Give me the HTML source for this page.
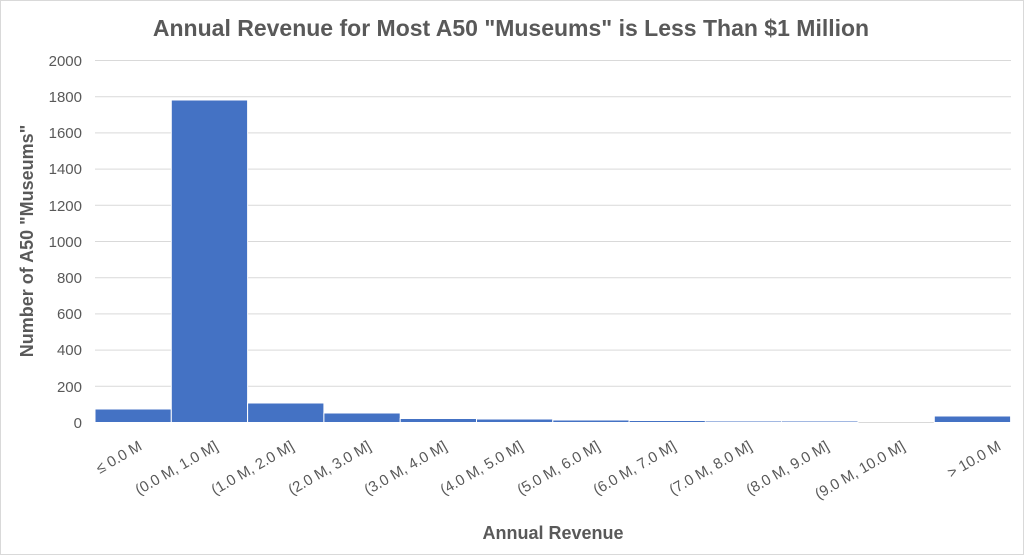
<!DOCTYPE html>
<html><head><meta charset="utf-8"><style>body{margin:0;background:#fff}</style></head><body>
<svg width="1024" height="555" xmlns="http://www.w3.org/2000/svg" font-family="Liberation Sans, sans-serif">
<rect x="0.5" y="0.5" width="1023" height="554" fill="#fff" stroke="#d9d9d9"/>
<text x="511" y="36" text-anchor="middle" font-size="23" font-weight="bold" fill="#595959">Annual Revenue for Most A50 "Museums" is Less Than $1 Million</text>
<g stroke="#d9d9d9" stroke-width="1">
<line x1="95" x2="1011" y1="60.5" y2="60.5"/><line x1="95" x2="1011" y1="96.7" y2="96.7"/><line x1="95" x2="1011" y1="132.9" y2="132.9"/><line x1="95" x2="1011" y1="169.1" y2="169.1"/><line x1="95" x2="1011" y1="205.3" y2="205.3"/><line x1="95" x2="1011" y1="241.5" y2="241.5"/><line x1="95" x2="1011" y1="277.7" y2="277.7"/><line x1="95" x2="1011" y1="313.9" y2="313.9"/><line x1="95" x2="1011" y1="350.1" y2="350.1"/><line x1="95" x2="1011" y1="386.3" y2="386.3"/><line x1="95" x2="1011" y1="422.5" y2="422.5"/>
</g>
<g font-size="15" fill="#595959" text-anchor="end">
<text x="82" y="66">2000</text><text x="82" y="102">1800</text><text x="82" y="138">1600</text><text x="82" y="174">1400</text><text x="82" y="211">1200</text><text x="82" y="247">1000</text><text x="82" y="283">800</text><text x="82" y="319">600</text><text x="82" y="355">400</text><text x="82" y="392">200</text><text x="82" y="428">0</text>
</g>
<g fill="#4472c4" stroke="#fff" stroke-width="1">
<rect x="95" y="409" width="76.3" height="13.5"/>
<rect x="171.3" y="100" width="76.3" height="322.5"/>
<rect x="247.6" y="403" width="76.3" height="19.5"/>
<rect x="323.9" y="413" width="76.3" height="9.5"/>
<rect x="400.2" y="418.5" width="76.3" height="4"/>
<rect x="476.5" y="419" width="76.3" height="3.5"/>
<rect x="552.8" y="420" width="76.3" height="2.5"/>
<rect x="629.1" y="420.5" width="76.3" height="2"/>
<rect x="705.4" y="421" width="76.3" height="1.5"/>
<rect x="781.7" y="421" width="76.3" height="1.5"/>
<rect x="934.3" y="416" width="76.3" height="6.5"/>
</g>
<g font-size="15" fill="#595959" text-anchor="end">
<text transform="translate(143,449) rotate(-30)">≤ 0.0 M</text>
<text transform="translate(219,449) rotate(-30)">(0.0 M, 1.0 M]</text>
<text transform="translate(295,449) rotate(-30)">(1.0 M, 2.0 M]</text>
<text transform="translate(372,449) rotate(-30)">(2.0 M, 3.0 M]</text>
<text transform="translate(448,449) rotate(-30)">(3.0 M, 4.0 M]</text>
<text transform="translate(524,449) rotate(-30)">(4.0 M, 5.0 M]</text>
<text transform="translate(601,449) rotate(-30)">(5.0 M, 6.0 M]</text>
<text transform="translate(677,449) rotate(-30)">(6.0 M, 7.0 M]</text>
<text transform="translate(753,449) rotate(-30)">(7.0 M, 8.0 M]</text>
<text transform="translate(830,449) rotate(-30)">(8.0 M, 9.0 M]</text>
<text transform="translate(906,449) rotate(-30)">(9.0 M, 10.0 M]</text>
<text transform="translate(1002,449) rotate(-30)">&gt; 10.0 M</text>
</g>
<text x="553" y="539" text-anchor="middle" font-size="18" font-weight="bold" fill="#595959">Annual Revenue</text>
<text transform="translate(33,241) rotate(-90)" text-anchor="middle" font-size="18" font-weight="bold" fill="#595959">Number of A50 "Museums"</text>
</svg>
</body></html>
